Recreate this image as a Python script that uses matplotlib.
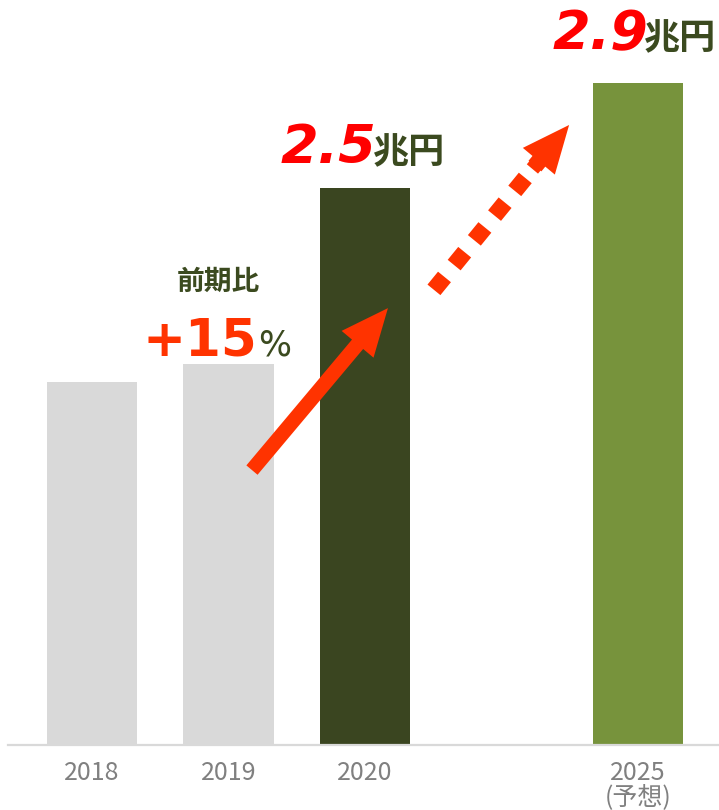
import matplotlib.pyplot as plt
from matplotlib.patches import ArrowStyle

plt.rcParams['font.family'] = ['Noto Sans CJK JP', 'DejaVu Sans']
plt.rcParams['lines.scale_dashes'] = False

# data (bar heights, chart is not drawn to scale)
years = ['2018', '2019', '2020', '2025\n(予想)']
positions = [0, 1, 2, 4]
values = [1.63, 1.71, 2.50, 2.97]
bar_colors = ['#d9d9d9', '#d9d9d9', '#3a4520', '#77933c']
labels_value = ['2.5', '2.9']
unit = '兆円'
growth = '+15'

dark = '#3b4a1f'
red = '#ff0000'
orange = '#ff3300'

fig = plt.figure(figsize=(7.19, 8.1), dpi=100)
ax = fig.add_axes([8 / 719, 65 / 810, 711 / 719, 745 / 810])

ax.bar(positions, values, width=0.66, color=bar_colors, zorder=2)
ax.set_xlim(-0.615, 4.593)
ax.set_ylim(0, 3.344)

for s in ['top', 'right', 'left']:
    ax.spines[s].set_visible(False)
ax.spines['bottom'].set_color('#d9d9d9')
ax.spines['bottom'].set_linewidth(1.6)
ax.set_yticks([])
ax.set_xticks(positions)
ax.set_xticklabels(years, color='#808080', fontsize=18, linespacing=0.9)
ax.tick_params(axis='x', length=0, pad=11)

# value labels
ax.text(2.085, 2.612, labels_value[0], ha='right', va='baseline', color=red,
        fontsize=39, fontweight='bold', fontstyle='italic', family='DejaVu Sans')
ax.text(2.055, 2.612, unit, ha='left', va='baseline', color=dark,
        fontsize=26, fontweight='bold', family='Noto Sans CJK JP')
ax.text(4.075, 3.124, labels_value[1], ha='right', va='baseline', color=red,
        fontsize=39, fontweight='bold', fontstyle='italic', family='DejaVu Sans')
ax.text(4.045, 3.124, unit, ha='left', va='baseline', color=dark,
        fontsize=26, fontweight='bold', family='Noto Sans CJK JP')

# growth label
ax.text(0.923, 2.078, '前期比', ha='center', va='center', color=dark,
        fontsize=20, fontweight='bold', family='Noto Sans CJK JP')
ax.text(1.21, 1.75, growth, ha='right', va='baseline', color=orange,
        fontsize=37, fontweight='bold', family='DejaVu Sans')
ax.text(1.215, 1.75, '%', ha='left', va='baseline', color=dark,
        fontsize=25, family='DejaVu Sans')

# solid arrow 2019 -> 2020
head = ArrowStyle.Simple(head_length=34, head_width=30, tail_width=10.5)
ax.annotate('', xy=(2.168, 1.961), xytext=(1.172, 1.234),
            arrowprops=dict(arrowstyle=head, color=orange, mutation_scale=1,
                            shrinkA=0, shrinkB=0, lw=0), zorder=3)

# dotted arrow 2020 -> 2025
x0, y0, x1, y1 = 2.535, 2.078, 3.495, 2.783
t = 0.80
ax.plot([x0 - 0.03, x0 + (x1 - x0) * t], [y0 - 0.035, y0 + (y1 - y0) * t],
        color=orange, lw=12, dashes=(12, 11), solid_capstyle='butt',
        dash_capstyle='butt', zorder=3)
ax.annotate('', xy=(x1, y1), xytext=(x0 + (x1 - x0) * 0.72, y0 + (y1 - y0) * 0.72),
            arrowprops=dict(arrowstyle=head, color=orange, mutation_scale=1,
                            shrinkA=0, shrinkB=0, lw=0), zorder=3)

plt.savefig('out.png', dpi=100)
